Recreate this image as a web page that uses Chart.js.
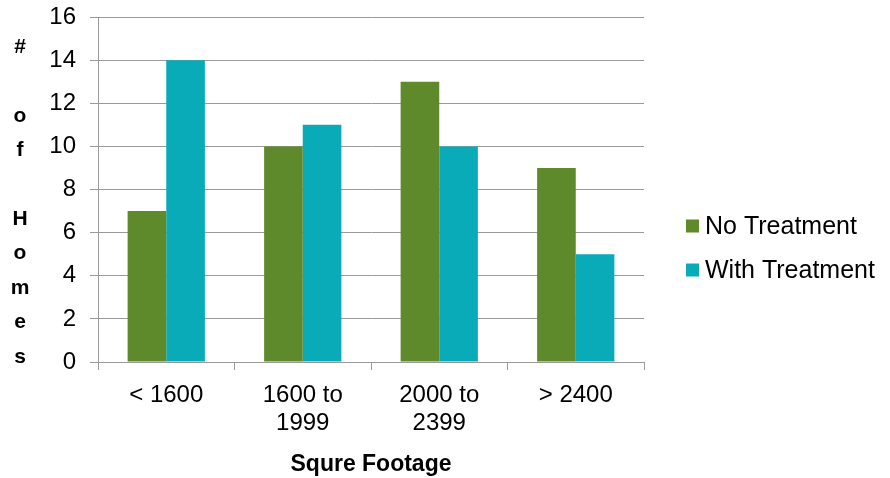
<!DOCTYPE html>
<html>
<head>
<meta charset="utf-8">
<script src="https://cdn.jsdelivr.net/npm/chart.js@4/dist/chart.umd.min.js"></script>
<style>
  html, body { margin: 0; padding: 0; background: #ffffff; }
  #wrap { position: relative; width: 890px; height: 478px; }
</style>
</head>
<body>
<div id="wrap"><canvas id="chart"></canvas></div>
<script>
// Homes by floor area, untreated vs treated
const categories = [['< 1600'], ['1600 to', '1999'], ['2000 to', '2399'], ['> 2400']];
const noTreatment = [7, 10, 13, 9];
const withTreatment = [14, 11, 10, 5];
const seriesNames = ['No Treatment', 'With Treatment'];
const seriesColors = ['#5F8A2B', '#0AABB9'];
const yTitle = '# of Homes';
const xTitle = 'Squre Footage';

const FONT = "'Liberation Sans', Arial, sans-serif";
const GRID = '#9a9a9a';

// Stacked (one letter per line) y-axis title and a right-hand legend
const sideText = {
  id: 'sideText',
  afterDraw(chart) {
    const ctx = chart.ctx;
    const area = chart.chartArea;
    ctx.save();
    ctx.fillStyle = '#000000';
    ctx.textAlign = 'center';
    ctx.textBaseline = 'middle';
    ctx.font = 'bold 21px ' + FONT;
    const letters = yTitle.split('');
    const first = area.top + 30;
    const last = area.bottom - 5;
    const step = (last - first) / (letters.length - 1);
    letters.forEach((ch, i) => {
      if (ch.trim()) ctx.fillText(ch, 20, first + i * step);
    });

    ctx.font = '25px ' + FONT;
    ctx.textAlign = 'left';
    chart.data.datasets.forEach((ds, i) => {
      const y = 226 + i * 44;
      ctx.fillStyle = ds.backgroundColor;
      ctx.fillRect(686, y - 6.5, 13, 13);
      ctx.fillStyle = '#000000';
      ctx.fillText(ds.label, 705, y + 1);
    });
    ctx.restore();
  }
};

new Chart(document.getElementById('chart'), {
  type: 'bar',
  data: {
    labels: categories,
    datasets: [
      { label: seriesNames[0], data: noTreatment, backgroundColor: seriesColors[0] },
      { label: seriesNames[1], data: withTreatment, backgroundColor: seriesColors[1] }
    ]
  },
  options: {
    responsive: true,
    maintainAspectRatio: false,
    animation: false,
    layout: { padding: { left: 0, right: 246, top: 17, bottom: 0 } },
    datasets: { bar: { categoryPercentage: 0.566, barPercentage: 1.0 } },
    plugins: {
      legend: { display: false },
      tooltip: { enabled: false }
    },
    scales: {
      x: {
        grid: { drawOnChartArea: false, drawTicks: true, tickLength: 8, color: GRID, offset: true },
        border: { display: true, color: GRID, width: 1 },
        ticks: { color: '#000000', font: { family: FONT, size: 24, lineHeight: 1.15 }, padding: 12, maxRotation: 0 },
        title: { display: true, text: xTitle, color: '#000000', font: { family: FONT, size: 23, weight: 'bold' }, padding: { top: 0, bottom: 0 } },
        afterFit(scale) { scale.height = 116; }
      },
      y: {
        min: 0,
        max: 16,
        ticks: { stepSize: 2, color: '#000000', font: { family: FONT, size: 24 }, padding: 14 },
        grid: { color: GRID, lineWidth: 1, drawTicks: true, tickLength: 8 },
        border: { display: true, color: GRID, width: 1 },
        afterFit(scale) {
          scale.width = 98;
          scale.paddingTop = 0;
          scale.paddingBottom = 0;
        }
      }
    }
  },
  plugins: [sideText]
});
</script>
</body>
</html>
